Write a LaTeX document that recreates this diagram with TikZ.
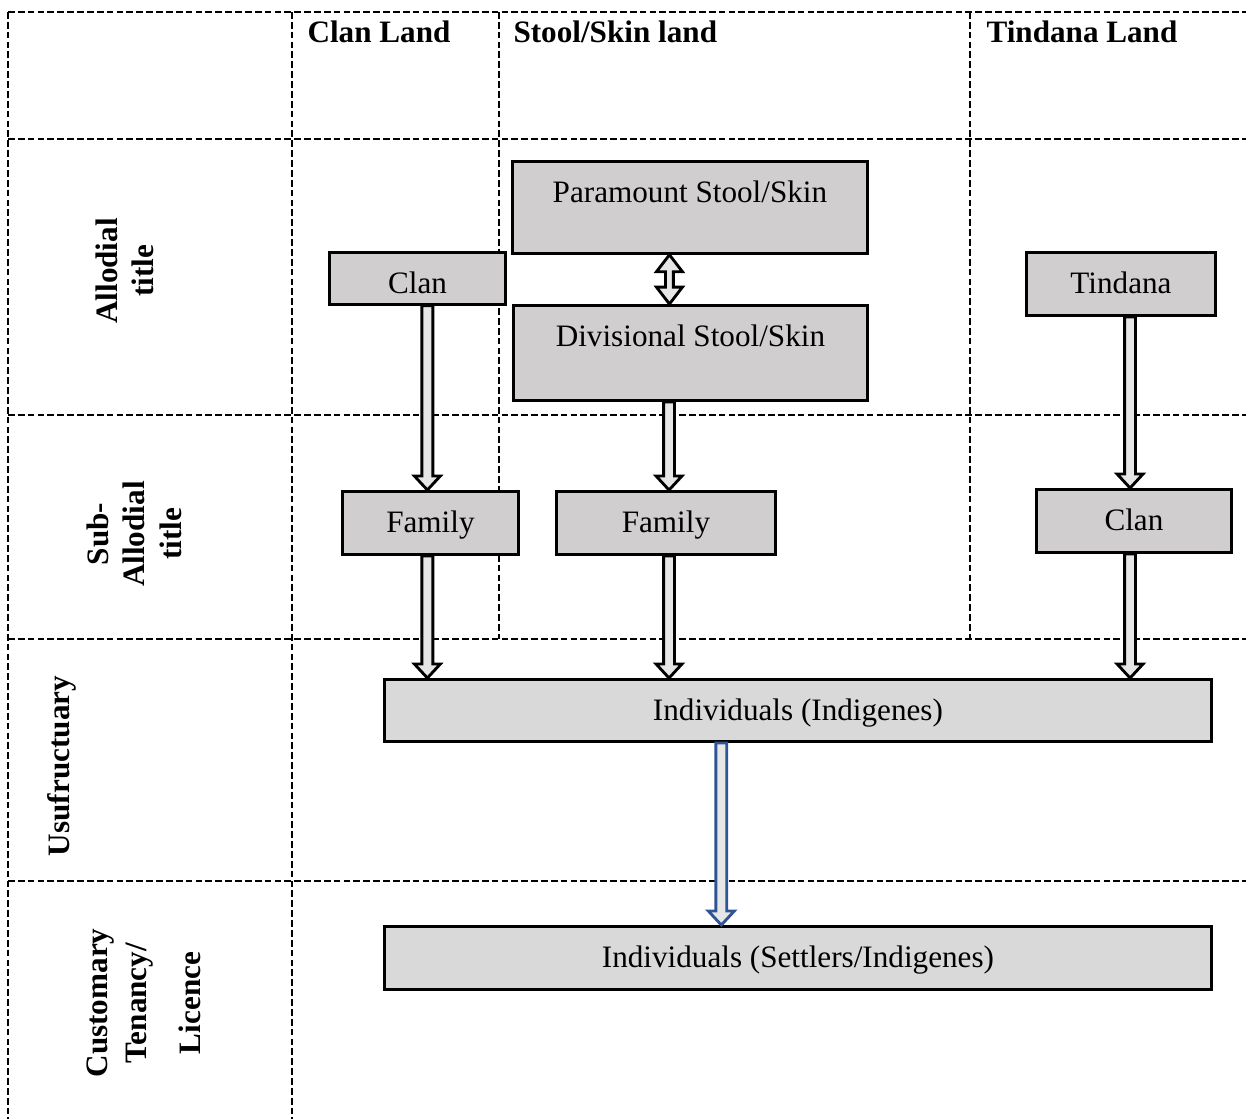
\documentclass[tikz,border=0pt]{standalone}
\usepackage{fontspec}
\setmainfont{Liberation Serif}
\usetikzlibrary{calc}

\definecolor{boxgray}{HTML}{D0CECE}
\definecolor{indgray}{HTML}{D9D9D9}
\definecolor{arrgray}{HTML}{E7E6E6}
\definecolor{arrblue}{HTML}{2F5496}

\tikzset{
  gridline/.style={dash pattern=on 2.6pt off 1.2pt, line width=0.75pt},
  box/.style={draw, line width=1.1pt, fill=boxgray, inner sep=0pt, anchor=north west,
    text height=15.8pt, font=\fontsize{12}{14}\selectfont},
  head/.style={anchor=base west, inner sep=0pt, font=\bfseries\fontsize{12}{14}\selectfont},
  side/.style={rotate=90, align=center, inner sep=0pt, font=\bfseries\fontsize{12}{14}\selectfont},
}

% hollow block arrow, pointing down
\newcommand{\blockarr}[3][black]{%
  \draw[draw=#1, fill=arrgray, line width=1.1pt] let \p1=(#2), \p2=(#3) in
    (\x1-2.1pt,\y1) -- (\x1-2.1pt,\y2+5.4pt) -- (\x1-5pt,\y2+5.4pt) -- (\x1,\y2)
    -- (\x1+5pt,\y2+5.4pt) -- (\x1+2.1pt,\y2+5.4pt) -- (\x1+2.1pt,\y1) -- cycle;}

\begin{document}
\begin{tikzpicture}[x=0.385pt, y=-0.385pt]
    \useasboundingbox (0,0) rectangle (1246,1119);
    % table
    \draw[gridline] (8,12) -- (1246,12);
    \draw[gridline] (8,139) -- (1246,139);
    \draw[gridline] (8,415) -- (1246,415);
    \draw[gridline] (8,639) -- (1246,639);
    \draw[gridline] (8,881) -- (1246,881);
    \draw[gridline] (8,12) -- (8,1119);
    \draw[gridline] (292,12) -- (292,1119);
    \draw[gridline] (499,12) -- (499,639);
    \draw[gridline] (970,12) -- (970,639);

    \node[head] (hclan) at (307,42) {Clan Land};
    \node[head] (hstool) at (513,42) {Stool/Skin land};
    \node[head] (htind) at (986,42) {Tindana Land};

    \node[side] (sallod) at (125,271) {Allodial\\title};
    \node[side] (ssub) at (134,534) {Sub-\\Allodial\\title};
    \node[side] (susu) at (62,766) {Usufructuary};
    \node[side] (scust) at (144,1003) {Customary\\[1pt]Tenancy/\\[7pt]Licence};

    % boxes
    \node[box, minimum width=136.7pt, text depth=19.6pt] (para) at (511,160) {Paramount Stool/Skin};
    \node[box, minimum width=136.3pt, text depth=20.8pt] (divi) at (512,304) {Divisional Stool/Skin};
    \node[box, minimum width=67.8pt, text depth=4.2pt] (clanA) at (328,251) {Clan};
    \node[box, minimum width=72.8pt, text depth=8.5pt] (tind) at (1025,251) {Tindana};
    \node[box, minimum width=67.8pt, text depth=8.5pt] (famA) at (341,490) {Family};
    \node[box, minimum width=84.3pt, text depth=8.5pt] (famB) at (555,490) {Family};
    \node[box, minimum width=75.1pt, text depth=8.5pt] (clanB) at (1035,488) {Clan};
    \node[box, fill=indgray, minimum width=318.4pt, text depth=8.1pt] (indig) at (383,678) {Individuals (Indigenes)};
    \node[box, fill=indgray, minimum width=318.4pt, text depth=8.5pt] (settl) at (383,925) {Individuals (Settlers/Indigenes)};

    % arrows
    \coordinate (xa) at ([xshift=-1.2pt]famA.center);
    \coordinate (xb) at ([xshift=1.2pt]famB.center);
    \coordinate (xc) at ([xshift=-1.5pt]clanB.center);
    \coordinate (xd) at ([xshift=-29.5pt]indig.center);
    \draw[fill=arrgray, line width=1.1pt] let \p1=([xshift=-7.9pt]para.south), \p2=([xshift=-7.9pt]divi.north) in
      (\x1,\y1) -- (\x1+5pt,\y1-6.5pt) -- (\x1+1.5pt,\y1-6.5pt) -- (\x1+1.5pt,\y2+6.5pt)
      -- (\x1+5pt,\y2+6.5pt) -- (\x1,\y2) -- (\x1-5pt,\y2+6.5pt) -- (\x1-1.5pt,\y2+6.5pt)
      -- (\x1-1.5pt,\y1-6.5pt) -- (\x1-5pt,\y1-6.5pt) -- cycle;
    \blockarr{clanA.south -| xa}{famA.north -| xa}
    \blockarr{divi.south -| xb}{famB.north -| xb}
    \blockarr{tind.south -| xc}{clanB.north -| xc}
    \blockarr{famA.south -| xa}{indig.north -| xa}
    \blockarr{famB.south -| xb}{indig.north -| xb}
    \blockarr{clanB.south -| xc}{indig.north -| xc}
    \blockarr[arrblue]{indig.south -| xd}{settl.north -| xd}
\end{tikzpicture}
\end{document}
